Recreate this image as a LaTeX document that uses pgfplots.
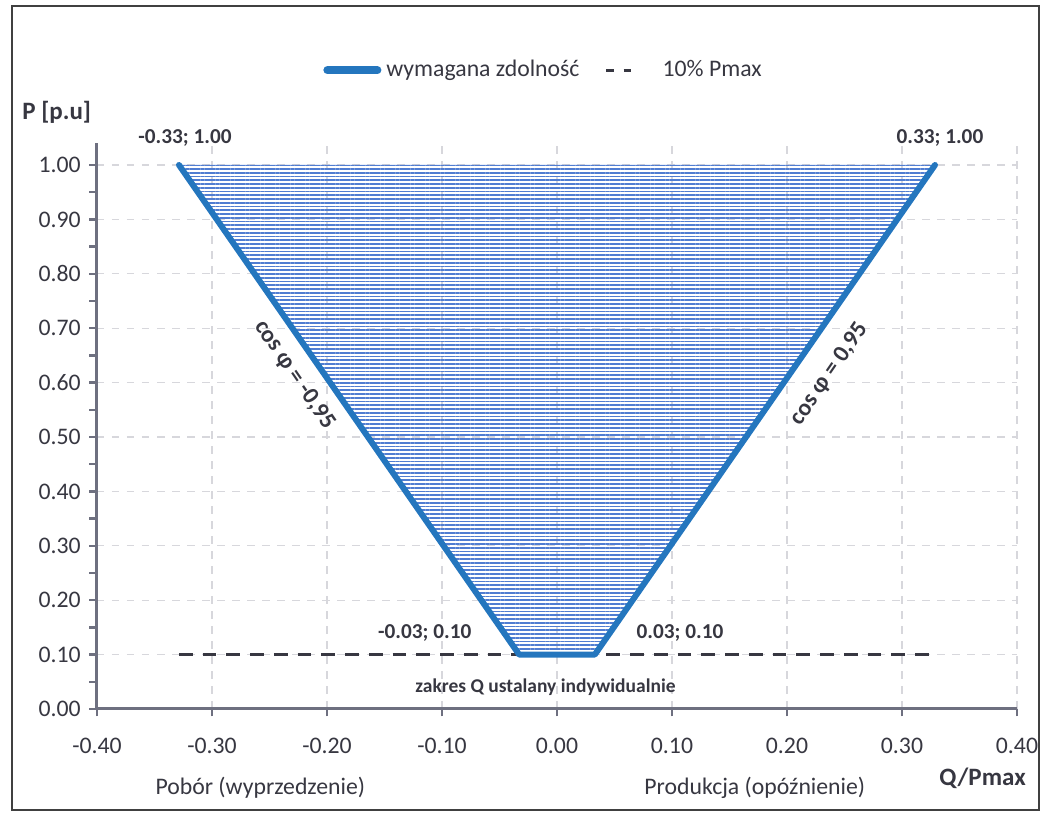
\documentclass[border=0pt]{standalone}
\usepackage{fontspec}
\setmainfont{Carlito}
\usepackage{pgfplots}
\pgfplotsset{compat=1.18}
\usetikzlibrary{patterns.meta}

\definecolor{lineblue}{RGB}{36,118,190}
\definecolor{hatch}{RGB}{80,125,210}
\definecolor{txt}{RGB}{55,55,65}
\definecolor{axgray}{RGB}{110,112,128}
\definecolor{gridc}{RGB}{215,215,220}

\begin{document}
\begin{tikzpicture}[x=1pt,y=1pt]
\useasboundingbox (0,0) rectangle (418,325.6);
\draw[black!75, line width=0.6pt] (4.8,1.5) rectangle (415.5,323.2);
\begin{axis}[
  at={(38.8pt,42pt)}, anchor=south west,
  scale only axis, width=368pt, height=226.3pt,
  xmin=-0.4, xmax=0.4, ymin=0, ymax=1.04,
  clip=false,
  axis x line=bottom, axis y line=left,
  axis line style={-, axgray, line width=1.2pt},
  xtick={-0.4,-0.3,-0.2,-0.1,0,0.1,0.2,0.3,0.4},
  ytick={0,0.1,0.2,0.3,0.4,0.5,0.6,0.7,0.8,0.9,1.0},
  minor y tick num=1,
  tick align=outside, major tick length=3pt, minor tick length=3pt,
  tick style={axgray, line width=1pt},
  grid=major, major grid style={gridc, dashed, line width=0.5pt},
  ticklabel style={font=\fontsize{9.5}{11}\selectfont, text=txt},
  xticklabel style={yshift=-5pt},
  /pgf/number format/.cd, fixed, fixed zerofill, precision=2, assume math mode=true,
  /pgfplots/.cd,
  legend style={at={(0.487,1.129)}, anchor=center, draw=none, fill=none,
    font=\fontsize{9.5}{11}\selectfont, text=txt,
    /tikz/every even column/.append style={column sep=8pt}},
  legend columns=2,
]
% 10% Pmax
\addplot[txt, line width=1.2pt, dash pattern=on 5.5pt off 4pt, forget plot] coordinates {
(-0.3287,0.10) (0.3287,0.10)
};
% wymagana zdolnosc (cos phi = 0,95)
\addplot[lineblue, line width=2.4pt, line cap=round, line join=round,
  pattern={Lines[angle=0, distance=1.5pt, line width=0.7pt]}, pattern color=hatch, forget plot]
  coordinates {
(-0.3287,1.00) (-0.0329,0.10) (0.0329,0.10) (0.3287,1.00)
};
\addlegendimage{legend image code/.code={\draw[lineblue, line width=3.2pt, line cap=round] (0pt,0pt)--(20pt,0pt);}}
\addlegendentry{wymagana zdolność}
\addlegendimage{legend image code/.code={\draw[txt, line width=1.2pt, dash pattern=on 3pt off 4pt] (0pt,0pt)--(11pt,0pt);}}
\addlegendentry{\hspace{9pt}10\% Pmax}

\node[txt, font=\bfseries\fontsize{8.5}{10}\selectfont] at (axis cs:-0.3235,1.05) {-0.33; 1.00};
\node[txt, font=\bfseries\fontsize{8.5}{10}\selectfont] at (axis cs:0.333,1.05) {0.33; 1.00};
\node[txt, font=\bfseries\fontsize{8.5}{10}\selectfont] at (axis cs:-0.115,0.14) {-0.03; 0.10};
\node[txt, font=\bfseries\fontsize{8.5}{10}\selectfont] at (axis cs:0.107,0.14) {0.03; 0.10};
\node[txt, font=\bfseries\fontsize{7.8}{9}\selectfont] at (axis cs:-0.01,0.04) {zakres Q ustalany indywidualnie};
\node[txt, font=\bfseries\fontsize{9.5}{11}\selectfont, rotate=-55.5] at (axis cs:-0.228,0.614) {cos φ = -0,95};
\node[txt, font=\bfseries\fontsize{9.5}{11}\selectfont, rotate=55.5] at (axis cs:0.237,0.616) {cos φ = 0,95};
\node[txt, font=\bfseries\fontsize{10}{12}\selectfont] at (axis cs:-0.435,1.097) {P [p.u]};
\node[txt, font=\bfseries\fontsize{10}{12}\selectfont] at (axis cs:0.370,-0.127) {Q/Pmax};
\node[txt, font=\fontsize{9.5}{11}\selectfont] at (axis cs:-0.258,-0.145) {Pobór (wyprzedzenie)};
\node[txt, font=\fontsize{9.5}{11}\selectfont] at (axis cs:0.172,-0.145) {Produkcja (opóźnienie)};
\end{axis}
\end{tikzpicture}
\end{document}
